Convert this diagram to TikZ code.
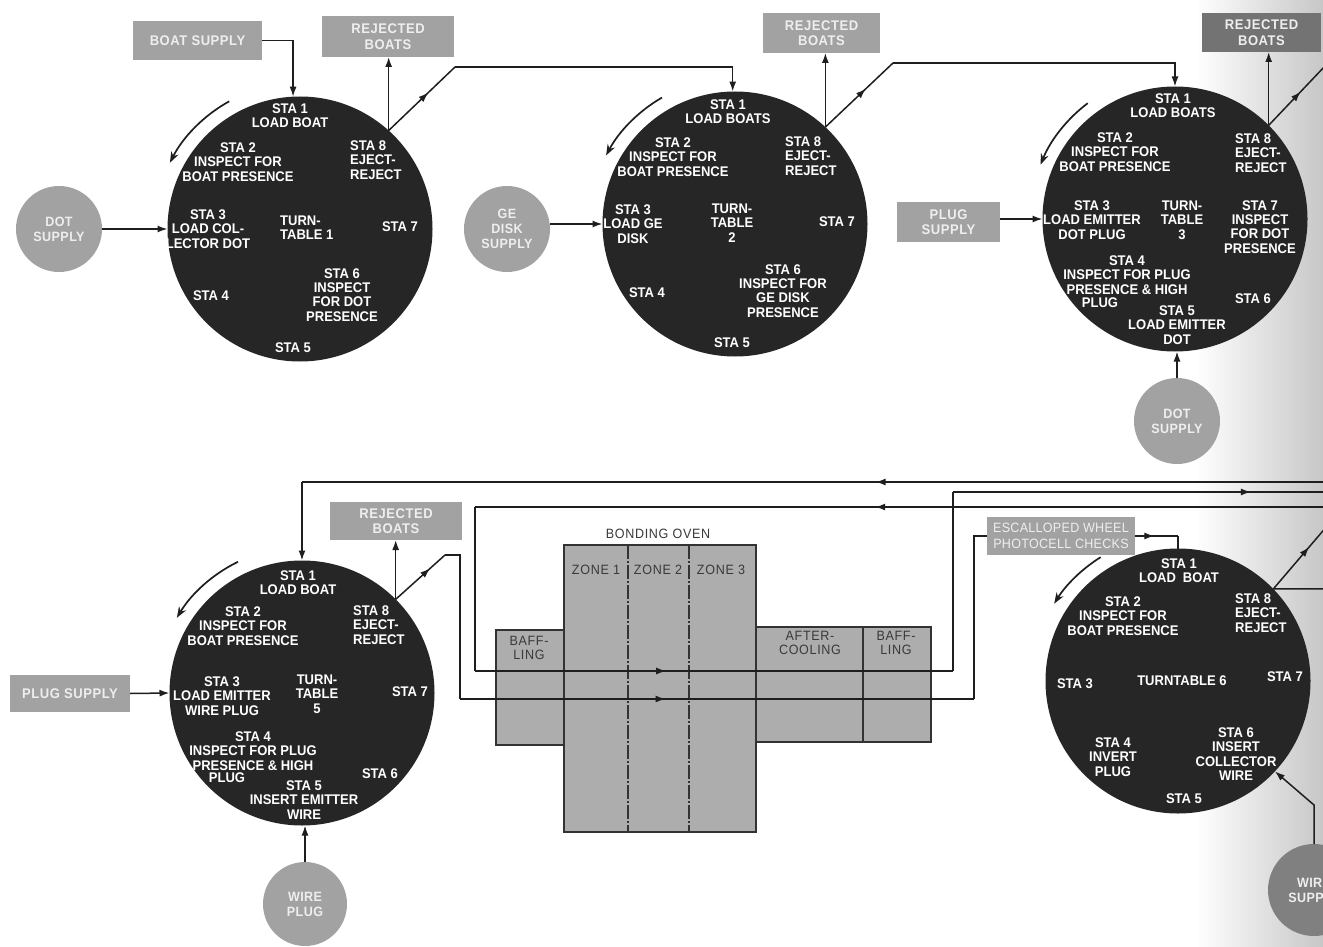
\documentclass[tikz,border=0pt]{standalone}
\usepackage{fontspec}
\setmainfont{Liberation Sans}[FakeStretch=0.93]
\usetikzlibrary{arrows.meta,decorations.markings,calc}
\definecolor{ttfill}{HTML}{262626}
\definecolor{boxfill}{HTML}{A2A2A2}
\definecolor{boxtext}{HTML}{EEEEEE}
\definecolor{ovenfill}{HTML}{ADADAD}
\definecolor{ovenline}{HTML}{333333}
\definecolor{linecol}{HTML}{1E1E1E}
\definecolor{ovtext}{HTML}{3A3A3A}
\begin{document}
\begin{tikzpicture}[x=1pt,y=-1pt,
  tt/.style={circle, fill=ttfill, draw=none, minimum size=265pt, inner sep=0pt, outer sep=0pt},
  sta/.style={text=white, font=\bfseries\fontsize{14}{14.3}\selectfont, align=center, inner sep=0pt},
  stal/.style={sta, align=left, anchor=west},
  sbox/.style={rectangle, fill=boxfill, draw=none, inner sep=0pt, outer sep=0pt, text=boxtext, font=\bfseries\fontsize{14}{15.5}\selectfont\addfontfeature{LetterSpace=4}, align=center},
  scirc/.style={circle, fill=boxfill, draw=none, inner sep=0pt, outer sep=0pt, minimum size=86pt, text=boxtext, font=\bfseries\fontsize{13.5}{15}\selectfont\addfontfeature{LetterSpace=3}, align=center},
  conn/.style={draw=linecol, line width=1.5pt},
  arr/.style={conn, -{Latex[length=10pt,width=7pt]}},
  mid/.style={postaction={decorate,decoration={markings,mark=at position #1 with {\arrow{Latex[length=10pt,width=7pt]}}}}},
  rot/.style={draw=linecol, line width=1.7pt, -{Stealth[length=11pt,width=8pt]}},
  ovenpart/.style={fill=ovenfill, draw=ovenline, line width=1.3pt},
  ovdiv/.style={draw=ovenline, line width=1.1pt, dash pattern=on 14pt off 2pt on 2pt off 2pt},
  ovtxt/.style={text=ovtext, font=\fontsize{13.5}{14.5}\selectfont\addfontfeature{LetterSpace=5}, align=center, inner sep=0pt}
]
\useasboundingbox (0,0) rectangle (1323,947);
\clip (0,0) rectangle (1323,947);
\fill[white] (0,0) rectangle (1323,947);
\shade[left color=white, right color=black!22] (1195,0) rectangle (1323,947);

% ---------- supply / reject boxes ----------
\node[sbox, minimum width=129pt, minimum height=39pt] (bs) at (197.5,40.5) {BOAT SUPPLY};
\node[sbox, minimum width=132pt, minimum height=41pt] (rej1) at (388,36.5) {REJECTED\\BOATS};
\node[sbox, minimum width=117pt, minimum height=40pt] (rej2) at (821.5,33) {REJECTED\\BOATS};
\node[sbox, fill=black!55, minimum width=119pt, minimum height=39pt] (rej3) at (1261.5,32.5) {REJECTED\\BOATS};
\node[sbox, minimum width=132pt, minimum height=38pt] (rej4) at (396,521) {REJECTED\\BOATS};
\node[sbox, minimum width=103pt, minimum height=40pt] (plug1) at (948.5,222) {PLUG\\SUPPLY};
\node[sbox, minimum width=120pt, minimum height=37pt] (plug2) at (70,693.5) {PLUG SUPPLY};
\node[sbox, minimum width=148pt, minimum height=38pt, font=\fontsize{13.5}{15.5}\selectfont\addfontfeature{LetterSpace=2}] (esc) at (1061,536) {ESCALLOPED WHEEL\\PHOTOCELL CHECKS};

\node[scirc] (dot1) at (59,229) {DOT\\SUPPLY};
\node[scirc] (ge) at (507,229) {GE\\DISK\\SUPPLY};
\node[scirc] (dot2) at (1177,421) {DOT\\SUPPLY};
\node[scirc, minimum size=84pt] (wp) at (305,904) {WIRE\\PLUG};
\node[scirc, fill=black!50, minimum size=92pt] (ws) at (1314,890) {WIRE\\SUPPLY};

% ---------- turntables ----------
\node[tt] (tt1) at (300,229) {};
\node[tt] (tt2) at (735,224) {};
\node[tt] (tt3) at (1175,219) {};
\node[tt] (tt5) at (302,693) {};
\node[tt] (tt6) at (1178,681) {};

% rotation arrows
\draw[rot] ([shift={(-119:146)}]tt1.center) arc[start angle=-119, end angle=-153, radius=146];
\draw[rot] ([shift={(-120:146)}]tt2.center) arc[start angle=-120, end angle=-152, radius=146];
\draw[rot] ([shift={(-127:145)}]tt3.center) arc[start angle=-127, end angle=-158, radius=145];
\draw[rot] ([shift={(-116:146)}]tt5.center) arc[start angle=-116, end angle=-149, radius=146];
\draw[rot] ([shift={(-122:146)}]tt6.center) arc[start angle=-122, end angle=-148, radius=146];

% ---------- turntable 1 texts ----------
\node[sta] (t1a) at (290,116) {STA 1\\LOAD BOAT};
\node[sta] (t1b) at (238,162) {STA 2\\INSPECT FOR\\BOAT PRESENCE};
\node[stal] (t1c) at (350,160) {STA 8\\EJECT-\\REJECT};
\node[sta] (t1d) at (208,229) {STA 3\\LOAD COL-\\LECTOR DOT};
\node[stal] (t1e) at (280,228) {TURN-\\TABLE 1};
\node[sta] (t1f) at (400,227) {STA 7};
\node[sta] (t1g) at (211,296) {STA 4};
\node[sta] (t1h) at (342,295) {STA 6\\INSPECT\\FOR DOT\\PRESENCE};
\node[sta] (t1i) at (293,348) {STA 5};

% ---------- turntable 2 texts ----------
\node[sta] (t2a) at (728,112) {STA 1\\LOAD BOATS};
\node[sta] (t2b) at (673,157) {STA 2\\INSPECT FOR\\BOAT PRESENCE};
\node[stal] (t2c) at (785,156) {STA 8\\EJECT-\\REJECT};
\node[sta] (t2d) at (633,224) {STA 3\\LOAD GE\\DISK};
\node[sta] (t2e) at (732,223) {TURN-\\TABLE\\2};
\node[sta] (t2f) at (837,222) {STA 7};
\node[sta] (t2g) at (647,293) {STA 4};
\node[sta] (t2h) at (783,291) {STA 6\\INSPECT FOR\\GE DISK\\PRESENCE};
\node[sta] (t2i) at (732,343) {STA 5};

% ---------- turntable 3 texts ----------
\node[sta] (t3a) at (1173,106) {STA 1\\LOAD BOATS};
\node[sta] (t3b) at (1115,152) {STA 2\\INSPECT FOR\\BOAT PRESENCE};
\node[stal] (t3c) at (1235,153) {STA 8\\EJECT-\\REJECT};
\node[sta] (t3d) at (1092,220) {STA 3\\LOAD EMITTER\\DOT PLUG};
\node[sta] (t3e) at (1182,220) {TURN-\\TABLE\\3};
\node[sta] (t3f) at (1260,227) {STA 7\\INSPECT\\FOR DOT\\PRESENCE};
\node[sta] (t3g) at (1127,275) {STA 4\\INSPECT FOR PLUG\\PRESENCE \& HIGH};
\node[sta] (t3g2) at (1100,303) {PLUG};
\node[sta] (t3h) at (1177,325) {STA 5\\LOAD EMITTER\\DOT};
\node[sta] (t3i) at (1253,299) {STA 6};

% ---------- turntable 5 texts ----------
\node[sta] (t5a) at (298,583) {STA 1\\LOAD BOAT};
\node[sta] (t5b) at (243,626) {STA 2\\INSPECT FOR\\BOAT PRESENCE};
\node[stal] (t5c) at (353,625) {STA 8\\EJECT-\\REJECT};
\node[sta] (t5d) at (222,696) {STA 3\\LOAD EMITTER\\WIRE PLUG};
\node[sta] (t5e) at (317,694) {TURN-\\TABLE\\5};
\node[sta] (t5f) at (410,692) {STA 7};
\node[sta] (t5g) at (253,751) {STA 4\\INSPECT FOR PLUG\\PRESENCE \& HIGH};
\node[sta] (t5g2) at (227,778) {PLUG};
\node[sta] (t5h) at (304,800) {STA 5\\INSERT EMITTER\\WIRE};
\node[sta] (t5i) at (380,774) {STA 6};

% ---------- turntable 6 texts ----------
\node[sta] (t6a) at (1179,571) {STA 1\\LOAD\enspace BOAT};
\node[sta] (t6b) at (1123,616) {STA 2\\INSPECT FOR\\BOAT PRESENCE};
\node[stal] (t6c) at (1235,613) {STA 8\\EJECT-\\REJECT};
\node[sta] (t6d) at (1075,684) {STA 3};
\node[sta] (t6e) at (1182,681) {TURNTABLE 6};
\node[sta] (t6f) at (1285,677) {STA 7};
\node[sta] (t6g) at (1113,757) {STA 4\\INVERT\\PLUG};
\node[sta] (t6h) at (1236,754) {STA 6\\INSERT\\COLLECTOR\\WIRE};
\node[sta] (t6i) at (1184,799) {STA 5};

% ---------- bonding oven ----------
\draw[ovenpart] (496,630) rectangle (564,745);
\draw[ovenpart] (756,627) rectangle (863,742);
\draw[ovenpart] (863,627) rectangle (931,742);
\draw[ovenpart] (564,545) rectangle (756,832);
\draw[ovdiv] (628,545) -- (628,832);
\draw[ovdiv] (689,545) -- (689,832);
\draw[ovdiv] (863,627) -- (863,742);
\node[ovtxt] (ovl) at (658,534) {BONDING OVEN};
\node[ovtxt] (z1) at (596,570) {ZONE 1};
\node[ovtxt] (z2) at (658,570) {ZONE 2};
\node[ovtxt] (z3) at (721,570) {ZONE 3};
\node[ovtxt] (bf1) at (529,648) {BAFF-\\LING};
\node[ovtxt] (ac) at (810,643) {AFTER-\\COOLING};
\node[ovtxt] (bf2) at (896,643) {BAFF-\\LING};

% ---------- coordinates ----------
\coordinate (e1) at (tt1.48);
\coordinate (e2) at (tt2.47);
\coordinate (e3) at (tt3.45.6);
\coordinate (e5) at (tt5.45);
\coordinate (e6) at (tt6.44);
\coordinate (k1) at (455,67);
\coordinate (k2) at (893,63);
\coordinate (k3) at (1345,45);
\coordinate (k6) at (1345,505);
\coordinate (h6) at (1345,589);
\coordinate (a0) at (1345,482);
\coordinate (a1) at (302,482);
\coordinate (c0) at (1345,507);
\coordinate (c1) at (475,507);
\coordinate (c2) at (475,671);
\coordinate (c3) at (953,671);
\coordinate (c4) at (953,492);
\coordinate (c5) at (1345,492);
\coordinate (p1) at (445,555);
\coordinate (p2) at (460,555);
\coordinate (p3) at (460,699);
\coordinate (p4) at (974,699);
\coordinate (p5) at (974,536);
\coordinate (q1) at (1178,536);
\coordinate (w1) at (1314,805);

% ---------- connectors ----------
\draw[arr] (bs.east) -| (tt1.93);
\draw[arr] (dot1.east) -- (tt1.west);
\draw[arr] (e1) -- (e1 |- rej1.south);
\draw[conn, mid=0.6] (e1) -- (k1);
\draw[arr] (k1) -| (tt2.91);

\draw[arr] (ge.east |- tt2.west) -- (tt2.west);
\draw[arr] (e2) -- (e2 |- rej2.south);
\draw[conn, mid=0.6] (e2) -- (k2);
\draw[arr] (k2) -| (tt3.90);

\draw[arr] (plug1.east |- tt3.west) -- (tt3.west);
\draw[arr] (dot2.north) -- (dot2.north |- tt3.south);
\draw[arr] (e3) -- (e3 |- rej3.south);
\draw[conn, mid=0.42] (e3) -- (k3);

\draw[conn, mid=0.45] (a0) -- (a1);
\draw[arr] (a1) -- (tt5.north);
\draw[arr] (plug2.east) -- (tt5.west);
\draw[arr] (wp.north) -- (wp.north |- tt5.south);
\draw[arr] (e5) -- (e5 |- rej4.south);
\draw[conn, mid=0.7] (e5) -- (p1);
\draw[conn] (p1) -- (p2) -- (p3);
\draw[conn, mid=0.4] (p3) -- (p4);
\draw[conn] (p4) -- (p5) -- (esc.west);

\draw[conn, mid=0.54] (c0) -- (c1);
\draw[conn] (c1) -- (c2);
\draw[conn, mid=0.4] (c2) -- (c3);
\draw[conn] (c3) -- (c4);
\draw[conn, mid=0.76] (c4) -- (c5);

\draw[conn, mid=0.45] (esc.east) -- (q1);
\draw[conn] (q1) -- (tt6.north);
\draw[conn, mid=0.5] (e6) -- (k6);
\draw[conn] (e6) -- (h6);
\draw[arr] (ws.north) -- (w1) -- (tt6.-43);
\end{tikzpicture}
\end{document}
